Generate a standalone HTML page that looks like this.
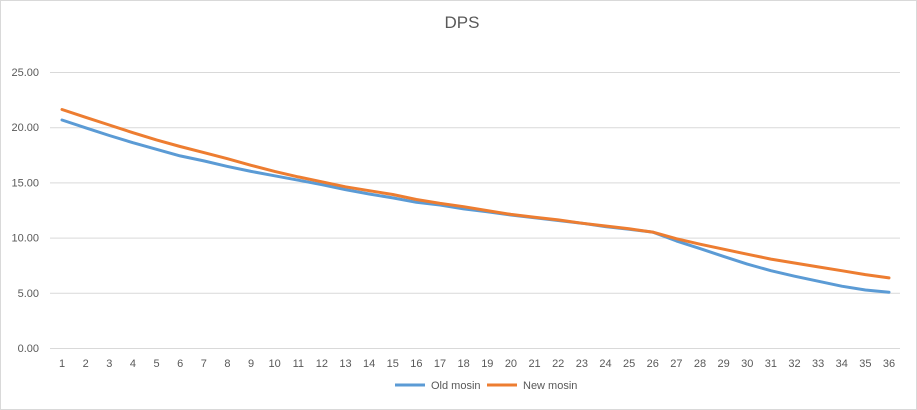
<!DOCTYPE html>
<html><head><meta charset="utf-8"><style>
html,body{margin:0;padding:0;background:#fff;}
svg{display:block;font-family:"Liberation Sans",sans-serif;}
</style></head><body>
<svg id="c" width="917" height="410" viewBox="0 0 917 410" xmlns="http://www.w3.org/2000/svg">
<rect x="0.5" y="0.5" width="916" height="409" fill="#fff" stroke="#d9d9d9"/>
<text x="462" y="28" font-size="17" fill="#595959" text-anchor="middle">DPS</text>
<g id="grid" stroke="#d9d9d9" stroke-width="1"></g>
<g id="ylab" font-size="11" fill="#595959" text-anchor="end"></g>
<g id="xlab" font-size="11" fill="#595959" text-anchor="middle"></g>
<g id="series"></g>
<line x1="395" y1="385" x2="425" y2="385" stroke="#5b9bd5" stroke-width="3"/>
<text x="431" y="389" font-size="11" fill="#595959">Old mosin</text>
<line x1="487" y1="385" x2="517" y2="385" stroke="#ed7d31" stroke-width="3"/>
<text x="523" y="389" font-size="11" fill="#595959">New mosin</text>
</svg>
<script>
var NS="http://www.w3.org/2000/svg";
function el(t,a,p,txt){var e=document.createElementNS(NS,t);for(var k in a)e.setAttribute(k,a[k]);if(txt!=null)e.textContent=txt;document.getElementById(p).appendChild(e);return e;}
var y0=348,ppu=11.04,x0=62,dx=827/35;
for(var v=0;v<=25;v+=5){var y=y0-v*ppu;el("line",{x1:50,x2:900,y1:y+0.5,y2:y+0.5},"grid");el("text",{x:39,y:y+4},"ylab",v.toFixed(2));}
for(var i=1;i<=36;i++){el("text",{x:x0+(i-1)*dx,y:367},"xlab",i);}
var oldv=[20.65,19.95,19.25,18.6,18.0,17.4,16.95,16.45,16.0,15.6,15.2,14.8,14.35,13.95,13.6,13.2,12.95,12.6,12.35,12.05,11.8,11.55,11.3,11.0,10.75,10.5,9.7,9.0,8.3,7.6,7.0,6.5,6.05,5.6,5.25,5.05];
var newv=[21.6,20.9,20.2,19.5,18.85,18.25,17.7,17.15,16.55,16.0,15.5,15.05,14.6,14.25,13.9,13.45,13.1,12.8,12.45,12.1,11.85,11.6,11.3,11.05,10.8,10.5,9.9,9.4,8.95,8.5,8.05,7.7,7.35,7.0,6.65,6.35];
function pts(a){return a.map(function(v,i){return (x0+i*dx).toFixed(1)+","+(y0-v*ppu).toFixed(1);}).join(" ");}
el("polyline",{points:pts(oldv),fill:"none",stroke:"#5b9bd5","stroke-width":3,"stroke-linejoin":"round","stroke-linecap":"round"},"series");
el("polyline",{points:pts(newv),fill:"none",stroke:"#ed7d31","stroke-width":3,"stroke-linejoin":"round","stroke-linecap":"round"},"series");
</script>
</body></html>
